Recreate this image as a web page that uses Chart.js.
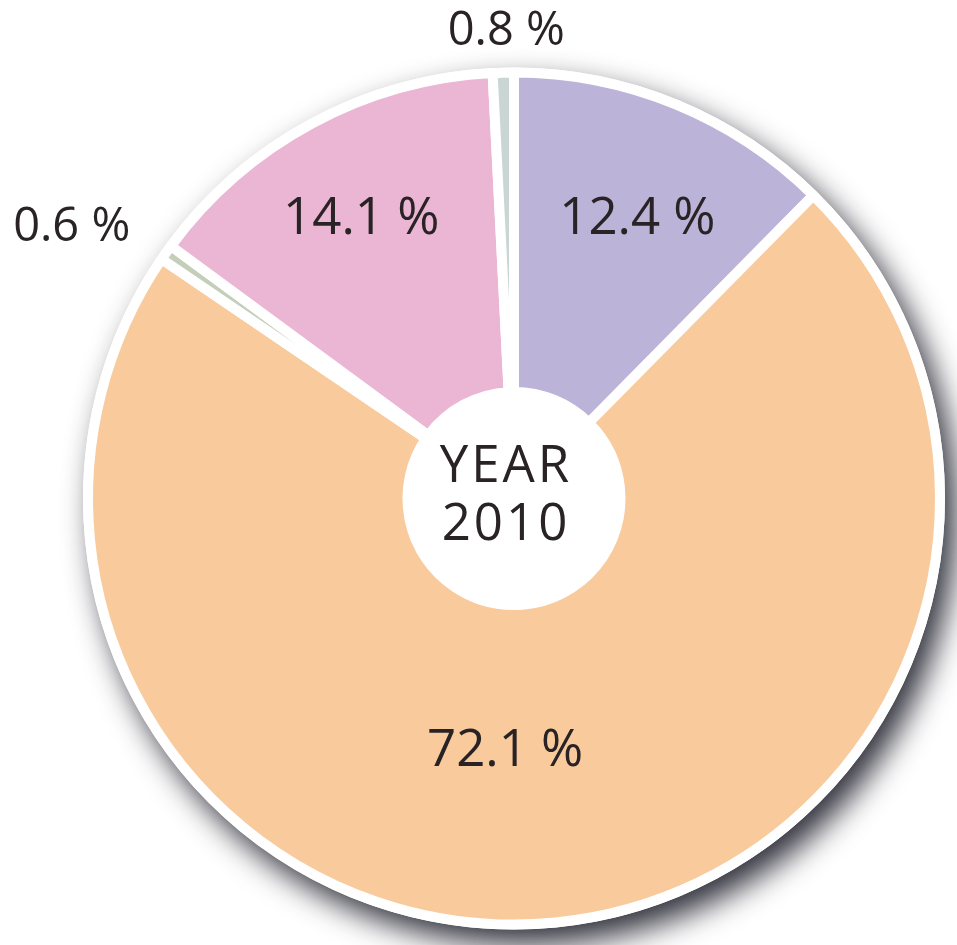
<!DOCTYPE html>
<html>
<head>
<meta charset="utf-8">
<script src="https://cdn.jsdelivr.net/npm/chart.js@4.4.1/dist/chart.umd.min.js"></script>
<style>
  html, body { margin: 0; padding: 0; background: #fff; }
  #wrap { width: 957px; height: 945px; position: relative; }
</style>
</head>
<body>
<div id="wrap"><canvas id="myChart"></canvas></div>
<script>
// shares for year 2010, clockwise from 12 o'clock
const categories = ['segA', 'segB', 'segC', 'segD', 'segE']
const shares = [12.4, 72.1, 0.6, 14.1, 0.8]
const shareLabels = ['12.4 %', '72.1 %', '0.6 %', '14.1 %', '0.8 %']
const centerText = ['YEAR', '2010']

const colors = ['#BCB3D8', '#F8CA9C', '#C4CFB9', '#EAB6D4', '#CAD6D3']

// label placement per slice: radius factor and angle nudge (degrees)
const labelRadius = [0.72, 0.59, 1.22, 0.75, 1.10]
const labelNudge = [1.4, 7.6, -3.6, -0.3, 0.5]
const labelSize = [51, 51, 47, 51, 47]

const shadowPlugin = {
    id: 'pieShadow',
    beforeDatasetsDraw(chart) {
        const arc = chart.getDatasetMeta(0).data[0]
        if (!arc) return
        const ctx = chart.ctx
        ctx.save()
        ctx.shadowColor = 'rgba(40,40,52,0.95)'
        ctx.shadowBlur = 30
        ctx.shadowOffsetX = 11
        ctx.shadowOffsetY = 15
        ctx.fillStyle = '#fff'
        ctx.beginPath()
        ctx.arc(arc.x, arc.y, arc.outerRadius + 5, 0, Math.PI * 2)
        ctx.fill()
        ctx.restore()
    }
}

const labelPlugin = {
    id: 'sliceLabels',
    afterDatasetsDraw(chart) {
        const ctx = chart.ctx
        const arcs = chart.getDatasetMeta(0).data
        ctx.save()
        ctx.fillStyle = '#2a2326'
        ctx.textAlign = 'center'
        ctx.textBaseline = 'middle'
        arcs.forEach((arc, i) => {
            const mid = (arc.startAngle + arc.endAngle) / 2 + labelNudge[i] * Math.PI / 180
            const r = arc.outerRadius * labelRadius[i]
            ctx.font = labelSize[i] + 'px "Open Sans"'
            ctx.fillText(shareLabels[i], arc.x + Math.cos(mid) * r, arc.y + Math.sin(mid) * r + 2)
        })
        const a = arcs[0]
        ctx.font = '51px "Open Sans"'
        ctx.letterSpacing = '3px'
        ctx.fillText(centerText[0], a.x - 8, a.y - 31)
        ctx.fillText(centerText[1], a.x - 8, a.y + 27)
        ctx.restore()
    }
}

let ctx = document.getElementById('myChart').getContext('2d')
let myChart = new Chart(ctx, {
    type: 'doughnut',
    data: {
        labels: categories,
        datasets: [{
            data: shares,
            backgroundColor: colors,
            borderColor: '#ffffff',
            borderWidth: 10,
            borderAlign: 'center'
        }]
    },
    options: {
        responsive: true,
        maintainAspectRatio: false,
        animation: false,
        cutout: '25%',
        layout: {
            padding: { left: 83, right: 12, top: 66, bottom: 14 }
        },
        plugins: {
            legend: { display: false },
            tooltip: { enabled: false }
        }
    },
    plugins: [shadowPlugin, labelPlugin]
})
</script>
</body>
</html>
